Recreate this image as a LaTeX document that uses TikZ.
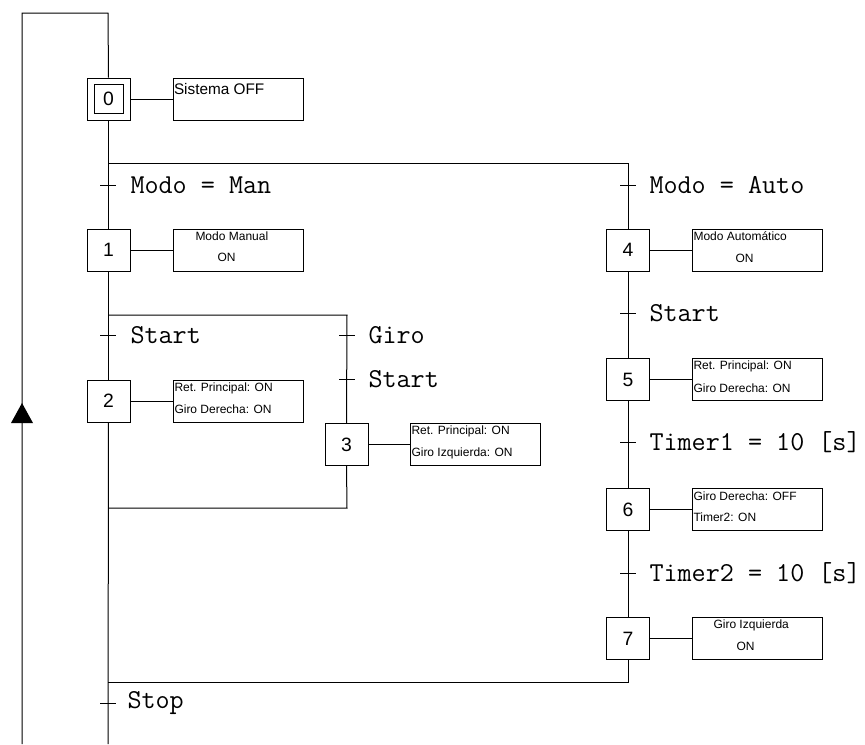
\documentclass[tikz,border=0pt]{standalone}
\usepackage{fontspec}
\setmainfont{Liberation Sans}
\begin{document}
\begin{tikzpicture}[x=0.75pt,y=-0.75pt,line width=0.75pt,
  stepbox/.style={draw, minimum width=32.25pt, minimum height=31.5pt, inner sep=0pt, font=\fontsize{14.5}{16}\selectfont},
  actbox/.style={draw, minimum width=97.5pt, minimum height=31.5pt, inner sep=0pt},
  acttext/.style={anchor=west, inner sep=0pt, font=\fontsize{9}{10}\selectfont},
  bigtext/.style={anchor=west, inner sep=0pt, font=\fontsize{11.5}{13}\selectfont},
  condtext/.style={anchor=west, inner sep=0pt, font=\ttfamily\fontsize{20.5}{22}\selectfont},
  tick/.style={line width=0.75pt}]
\useasboundingbox (0,0) rectangle (865,744);

% steps
\node[stepbox] (s0) at (108.5,99) {};
\node[draw, minimum width=21.75pt, minimum height=21.75pt, inner sep=0pt, font=\fontsize{14.5}{16}\selectfont] (s0in) at (108.5,98.5) {0};
\node[stepbox] (s1) at (108.5,250) {1};
\node[stepbox] (s2) at (108.5,401) {2};
\node[stepbox] (s3) at (346.5,444.5) {3};
\node[stepbox] (s4) at (628,250) {4};
\node[stepbox] (s5) at (628,379.5) {5};
\node[stepbox] (s6) at (628,509.5) {6};
\node[stepbox] (s7) at (628,638.5) {7};

% action boxes
\node[actbox] (a0) at (238,99) {};
\node[actbox] (a1) at (238,250) {};
\node[actbox] (a2) at (238,401) {};
\node[actbox] (a3) at (475.5,444.5) {};
\node[actbox] (a4) at (757,250) {};
\node[actbox] (a5) at (757,379.5) {};
\node[actbox] (a6) at (757,509.5) {};
\node[actbox] (a7) at (757,638.5) {};

\foreach \i in {0,...,7} {\draw (s\i.east) -- (a\i.west);}

% action texts
\node[bigtext] (t0) at (173.5,89) {Sistema OFF};
\node[acttext] (t1a) at (195,236) {Modo Manual};
\node[acttext] (t1b) at (217,257) {ON};
\node[acttext] (t2a) at (174,388) {Ret. Principal: ON};
\node[acttext] (t2b) at (174,409) {Giro Derecha: ON};
\node[acttext] (t3a) at (411,431) {Ret. Principal: ON};
\node[acttext] (t3b) at (411,453) {Giro Izquierda: ON};
\node[acttext] (t4a) at (693,236) {Modo Autom\'atico};
\node[acttext] (t4b) at (735,258) {ON};
\node[acttext] (t5a) at (693,366) {Ret. Principal: ON};
\node[acttext] (t5b) at (693,388) {Giro Derecha: ON};
\node[acttext] (t6a) at (693,496) {Giro Derecha: OFF};
\node[acttext] (t6b) at (693,517) {Timer2: ON};
\node[acttext] (t7a) at (713,625) {Giro Izquierda};
\node[acttext] (t7b) at (736,646) {ON};

% coordinates
\coordinate (T) at (108,13);
\coordinate (L) at (22,13);
\coordinate (LB) at (22,744);
\coordinate (MB) at (108,744);
\coordinate (J0) at (108,163);
\coordinate (J0r) at (628,163);
\coordinate (J1) at (108,315);
\coordinate (J1r) at (347,315);
\coordinate (J2) at (108,508);
\coordinate (J2r) at (347,508);
\coordinate (J3) at (108,682);
\coordinate (J3r) at (628,682);

% main flow lines
\draw (LB) -- (L) -- (T) -- (s0.north);
\draw (s0.south) -- (s1.north);
\draw (J0) -- (J0r) -- (s4.north);
\draw (s1.south) -- (s2.north);
\draw (J1) -- (J1r) -- (s3.north);
\draw (s2.south) -- (MB);
\draw (s3.south) -- (J2r) -- (J2);
\draw (s4.south) -- (s5.north);
\draw (s5.south) -- (s6.north);
\draw (s6.south) -- (s7.north);
\draw (s7.south) -- (J3r) -- (J3);

% arrow on return line
\fill (22,403) -- (33,423) -- (11,423) -- cycle;

% transitions
\draw[tick] (100,185) -- (116,185);
\node[condtext] (c1) at (130,185) {Modo = Man};
\draw[tick] (620,185) -- (636,185);
\node[condtext] (c2) at (649,185) {Modo = Auto};
\draw[tick] (100,335) -- (116,335);
\node[condtext] (c3) at (130,335) {Start};
\draw[tick] (339,335) -- (355,335);
\node[condtext] (c4) at (368,335) {Giro};
\draw[tick] (339,379) -- (355,379);
\node[condtext] (c5) at (368,379) {Start};
\draw[tick] (620,313) -- (636,313);
\node[condtext] (c6) at (649,313) {Start};
\draw[tick] (620,442) -- (636,442);
\node[condtext] (c7) at (649,442) {Timer1 = 10 [s]};
\draw[tick] (620,573) -- (636,573);
\node[condtext] (c8) at (649,573) {Timer2 = 10 [s]};
\draw[tick] (100,703) -- (116,703);
\node[condtext] (c9) at (127,703) {Stop};
\end{tikzpicture}
\end{document}
